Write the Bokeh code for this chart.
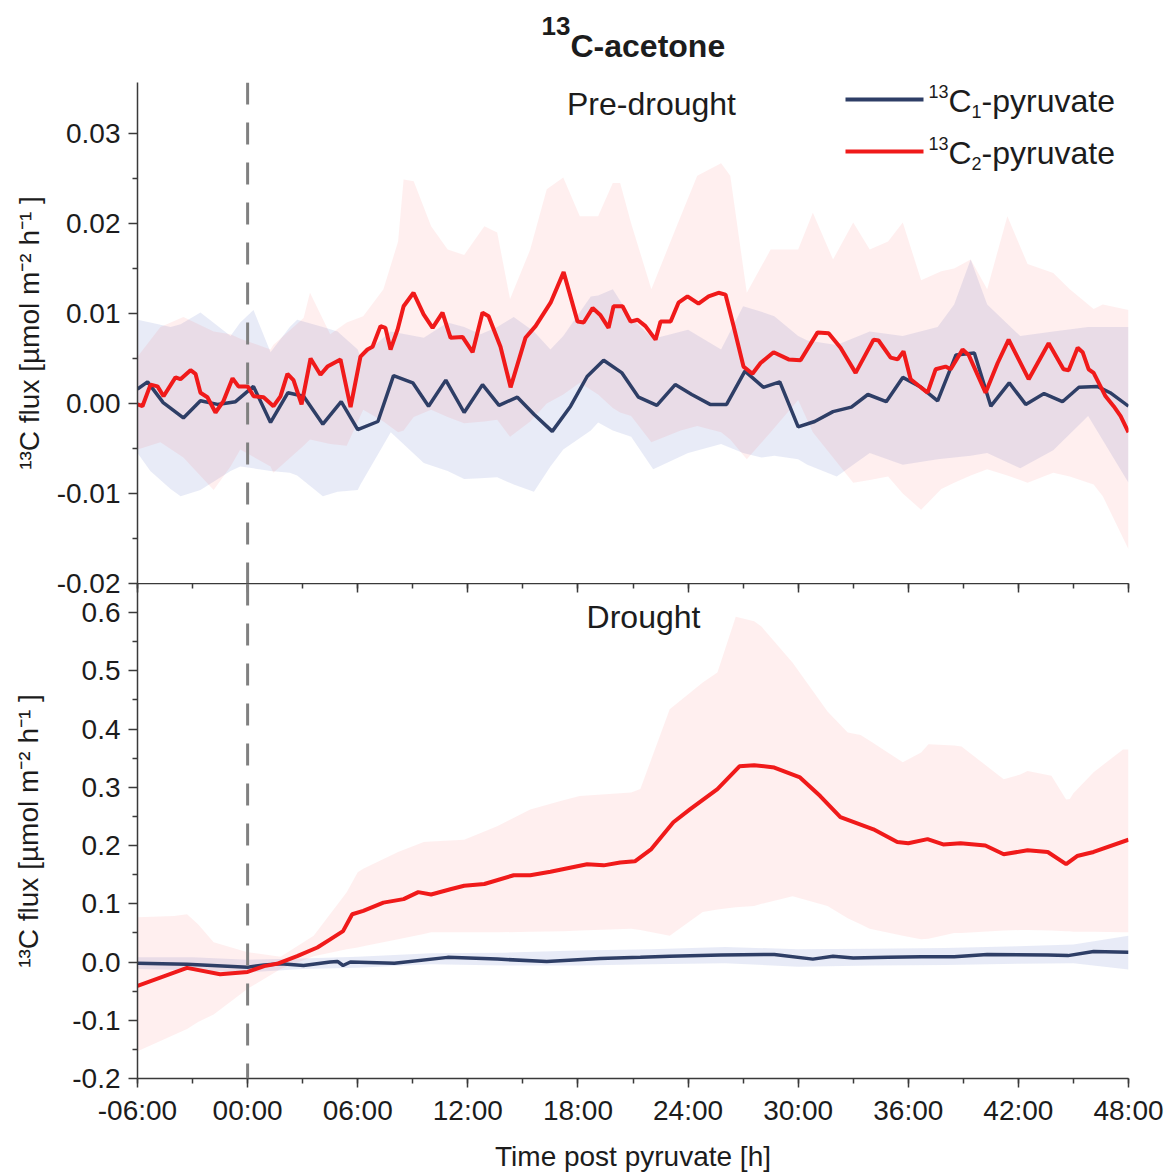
from bokeh.plotting import figure
from bokeh.layouts import column
from bokeh.models import (Range1d, FixedTicker, NumeralTickFormatter, LinearAxis,
                          Span, Label, BoxAnnotation)
from bokeh.embed import file_html
from bokeh.resources import INLINE

# ---------------- data ----------------
x_ticks = [-6, 0, 6, 12, 18, 24, 30, 36, 42, 48]
x_tick_labels = ["-06:00", "00:00", "06:00", "12:00", "18:00", "24:00",
                 "30:00", "36:00", "42:00", "48:00"]
x_minor = [-6, -3, 0, 3, 6, 9, 12, 15, 18, 21, 24, 27, 30, 33, 36, 39, 42, 45, 48]

pre_ticks = [-0.02, -0.01, 0.0, 0.01, 0.02, 0.03]
pre_minor = [-0.015, -0.005, 0.005, 0.015, 0.025]
dr_ticks = [-0.2, -0.1, 0.0, 0.1, 0.2, 0.3, 0.4, 0.5, 0.6]
dr_minor = [-0.15, -0.05, 0.05, 0.15, 0.25, 0.35, 0.45, 0.55]

# Pre-drought, 13C1-pyruvate (mean)
pre_c1_h = [-6.0, -5.45, -4.6, -3.5, -2.57, -1.64, -0.66, 0.32, 1.25, 2.2,
            3.05, 4.1, 5.1, 6.0, 7.1, 7.95, 9.0, 9.86, 10.8, 11.8,
            12.8, 13.7, 14.7, 15.6, 16.6, 17.6, 18.5, 19.4, 20.4, 21.3,
            22.3, 23.3, 24.2, 25.2, 26.1, 27.1, 28.1, 29.0, 30.0, 30.9,
            31.9, 32.9, 33.8, 34.8, 35.7, 36.7, 37.6, 38.6, 39.6, 40.5,
            41.5, 42.4, 43.4, 44.4, 45.3, 46.3, 47.0, 48.0]
pre_c1_v = [0.0016, 0.0024, 0.0001, -0.0016, 0.0003, -0.0001, 0.0002, 0.0019, -0.0021, 0.0012,
            0.0008, -0.0023, 0.0002, -0.0029, -0.002, 0.0031, 0.0023, -0.0003, 0.0026, -0.001,
            0.0021, -0.0002, 0.0007, -0.0012, -0.0031, -0.0003, 0.003, 0.0048, 0.0034, 0.0007,
            -0.0002, 0.0021, 0.001, -0.0001, -0.0001, 0.0036, 0.0018, 0.0024, -0.0026, -0.002,
            -0.0009, -0.0004, 0.001, 0.0002, 0.0029, 0.0018, 0.0003, 0.0054, 0.0056, -0.0003,
            0.0023, -0.0001, 0.0011, 0.0002, 0.0018, 0.0019, 0.0012, -0.0003]

# Pre-drought, 13C1-pyruvate (band)
pre_c1_band_h = [-6.0, -5.3, -4.2, -3.65, -2.57, -0.93, -0.4, 0.32, 1.25, 2.3, 2.7, 4.1, 4.9,
                 6.0, 6.15, 7.8, 9.6, 10.9, 11.8, 12.7, 13.6, 14.5, 15.6, 16.5, 17.2, 18.7,
                 19.1, 19.9, 20.9, 22.1, 24.0, 25.8, 27.0, 28.0, 28.7, 30.0, 30.5, 32.1, 33.9,
                 35.7, 37.6, 38.5, 39.4, 40.3, 42.1, 43.9, 45.8, 48.0]
pre_c1_hi = [0.0093, 0.009, 0.0085, 0.0088, 0.0101, 0.0075, 0.009, 0.0104, 0.0057, 0.0085, 0.0093, 0.0085, 0.008,
             0.006, 0.0051, 0.008, 0.0073, 0.009, 0.0085, 0.0077, 0.0085, 0.0096, 0.008, 0.006, 0.0075, 0.0119,
             0.012, 0.0127, 0.0095, 0.0072, 0.0082, 0.006, 0.0108, 0.0102, 0.0097, 0.0075, 0.007, 0.0065, 0.008,
             0.0075, 0.0085, 0.011, 0.016, 0.011, 0.0075, 0.008, 0.0085, 0.0085]
pre_c1_lo = [-0.0055, -0.0075, -0.0095, -0.0103, -0.0096, -0.0075, -0.007, -0.0072, -0.0075, -0.0077, -0.008, -0.0103, -0.0098,
             -0.0096, -0.009, -0.0032, -0.0066, -0.0075, -0.0084, -0.0083, -0.0082, -0.009, -0.0098, -0.007, -0.0051, -0.003,
             -0.0021, -0.003, -0.0037, -0.0073, -0.0055, -0.0045, -0.0055, -0.006, -0.0058, -0.0062, -0.0068, -0.0081, -0.0055,
             -0.0068, -0.0062, -0.006, -0.0058, -0.0055, -0.0072, -0.0052, -0.0014, -0.0088]

# Pre-drought, 13C2-pyruvate (mean)
pre_c2_h = [-6.0, -5.73, -5.29, -4.91, -4.58, -3.93, -3.66, -3.11, -2.84, -2.57,
            -2.19, -1.75, -1.31, -0.82, -0.5, 0.0, 0.33, 0.87, 1.41, 1.79,
            2.17, 2.5, 2.94, 3.43, 3.97, 4.35, 5.06, 5.61, 6.15, 6.53,
            6.81, 7.24, 7.51, 7.79, 8.17, 8.5, 9.04, 9.59, 10.08, 10.62,
            11.06, 11.71, 12.26, 12.8, 13.13, 13.78, 14.33, 15.14, 15.69, 16.51,
            17.22, 17.98, 18.31, 18.8, 19.23, 19.67, 19.94, 20.43, 20.87, 21.25,
            21.68, 22.23, 22.5, 23.05, 23.48, 23.97, 24.57, 25.12, 25.66, 26.04,
            26.48, 27.02, 27.51, 27.95, 28.66, 29.48, 30.13, 31.06, 31.66, 32.31,
            33.13, 34.11, 34.38, 35.04, 35.42, 35.74, 36.13, 37.05, 37.49, 38.03,
            38.31, 38.96, 39.29, 40.21, 40.87, 41.47, 42.56, 43.65, 44.46, 44.74,
            45.23, 45.5, 45.83, 46.1, 46.75, 47.19, 47.57, 48.0]
pre_c2_v = [-0.0001, -0.0003, 0.0021, 0.0019, 0.0008, 0.0029, 0.0027, 0.0037, 0.0033, 0.0012,
            0.0007, -0.001, 0.0003, 0.0028, 0.0019, 0.0019, 0.0008, 0.0007, -0.0003, 0.0008,
            0.0033, 0.0026, -0.0001, 0.005, 0.0032, 0.0041, 0.0049, -0.0004, 0.0052, 0.006,
            0.0063, 0.0086, 0.0084, 0.006, 0.0082, 0.0108, 0.0123, 0.0099, 0.0084, 0.0101,
            0.0073, 0.0074, 0.0057, 0.0101, 0.0097, 0.0063, 0.0018, 0.0073, 0.0086, 0.0112,
            0.0146, 0.0091, 0.009, 0.0106, 0.0098, 0.0084, 0.0108, 0.0108, 0.0091, 0.0093,
            0.0086, 0.0071, 0.0091, 0.0091, 0.0112, 0.0119, 0.0111, 0.0119, 0.0123, 0.0121,
            0.0086, 0.0041, 0.0033, 0.0045, 0.0057, 0.0049, 0.0048, 0.0079, 0.0078, 0.0062,
            0.0034, 0.0071, 0.007, 0.0051, 0.0049, 0.0058, 0.0027, 0.0012, 0.0038, 0.0041,
            0.0038, 0.006, 0.0054, 0.0012, 0.0045, 0.0071, 0.0027, 0.0067, 0.0038, 0.0037,
            0.0062, 0.0057, 0.0038, 0.0034, 0.0008, -0.0003, -0.0014, -0.0032]

# Pre-drought, 13C2-pyruvate (band)
pre_c2_band_h = [-6.0, -4.75, -3.5, -1.85, -0.93, -0.4, 1.25, 1.4, 3.05, 3.4, 4.5, 5.4, 6.3, 7.4,
                 8.2, 8.5, 9.05, 10.0, 10.9, 11.8, 12.9, 13.6, 14.3, 15.4, 16.3, 17.2, 18.1,
                 19.1, 19.9, 20.3, 20.9, 22.0, 23.6, 24.5, 25.8, 26.3, 27.2, 28.5, 30.0, 30.8,
                 31.9, 33.0, 33.9, 34.9, 35.7, 36.7, 37.8, 38.5, 39.4, 40.3, 41.4, 42.5, 43.9,
                 44.8, 46.1, 46.6, 48.0]
pre_c2_hi = [0.0052, 0.0085, 0.0096, 0.008, 0.0077, 0.0072, 0.006, 0.0065, 0.0095, 0.0123, 0.0077, 0.009, 0.0097, 0.0127,
             0.018, 0.0249, 0.0247, 0.0197, 0.0171, 0.0165, 0.0197, 0.019, 0.0116, 0.0171, 0.0238, 0.0251, 0.0208,
             0.0208, 0.0245, 0.0245, 0.02, 0.0127, 0.0208, 0.0253, 0.0267, 0.0253, 0.0123, 0.0171, 0.0171, 0.0212,
             0.016, 0.0201, 0.0171, 0.018, 0.0201, 0.0137, 0.0147, 0.015, 0.016, 0.0127, 0.0208, 0.0155, 0.0145,
             0.0127, 0.0105, 0.011, 0.0104]
pre_c2_lo = [-0.0051, -0.0043, -0.006, -0.0096, -0.007, -0.0051, -0.007, -0.0077, -0.0047, -0.004, -0.0045, -0.0047, -0.0007, -0.002,
             -0.0032, -0.003, -0.0015, -0.0007, -0.0015, -0.0022, -0.002, -0.0018, -0.0037, -0.002, 0.0, 0.001, 0.0023,
             0.001, -0.0005, -0.001, -0.0014, -0.0043, -0.003, -0.0025, -0.0032, -0.004, -0.0062, -0.0032, 0.0004, -0.0032,
             -0.006, -0.0088, -0.0085, -0.0081, -0.01, -0.0118, -0.0095, -0.0088, -0.008, -0.0073, -0.008, -0.0088, -0.0077,
             -0.0081, -0.009, -0.0103, -0.0162]

# Drought, 13C1-pyruvate (mean)
dr_c1_h = [-6.0, -3.3, 0.0, 0.9, 1.8, 3.05, 4.5, 4.9, 5.2, 5.6, 8.0, 10.9, 13.6, 16.3,
           19.2, 21.4, 23.0, 25.8, 28.7, 30.8, 31.9, 33.0, 34.9, 36.7, 38.5, 40.3, 43.6,
           44.7, 46.1, 48.0]
dr_c1_v = [-0.002, -0.004, -0.009, -0.005, -0.003, -0.006, 0.0, 0.001, -0.006, 0.0, -0.002, 0.008, 0.005, 0.001,
           0.006, 0.008, 0.01, 0.012, 0.013, 0.005, 0.01, 0.007, 0.008, 0.009, 0.009, 0.013, 0.012,
           0.011, 0.018, 0.017]

# Drought, 13C1-pyruvate (band)
dr_c1_band_h = [-6.0, -3.0, 0.0, 3.0, 6.0, 10.0, 14.0, 18.0, 22.0, 26.0, 30.0, 34.0, 38.0, 42.0, 45.0, 48.0]
dr_c1_hi = [0.008, 0.008, 0.004, 0.006, 0.009, 0.015, 0.016, 0.02, 0.022, 0.026, 0.022, 0.023, 0.024, 0.027, 0.03, 0.045]
dr_c1_lo = [-0.012, -0.014, -0.018, -0.012, -0.01, -0.004, -0.006, -0.006, -0.004, -0.002, -0.008, -0.006, -0.005, -0.003, -0.002, -0.013]

# Drought, 13C2-pyruvate (mean)
dr_c2_h = [-6.0, -3.3, -1.5, 0.0, 0.9, 1.6, 2.7, 3.8, 4.5, 5.2, 5.7, 6.3, 7.4, 8.5, 9.3, 10.0,
           11.05, 11.8, 12.9, 14.5, 15.4, 16.5, 18.5, 19.4, 20.3, 21.1, 22.0, 23.2, 24.1, 25.6,
           26.8, 27.6, 28.7, 30.1, 31.2, 32.3, 34.1, 35.4, 36.0, 37.05, 37.9, 38.85, 40.2, 41.2,
           42.5, 43.6, 44.6, 45.2, 46.1, 48.0]
dr_c2_v = [-0.041, -0.01, -0.021, -0.017, -0.007, -0.003, 0.01, 0.025, 0.039, 0.053, 0.082, 0.088, 0.102, 0.108, 0.12, 0.116,
           0.125, 0.131, 0.134, 0.149, 0.149, 0.155, 0.168, 0.166, 0.171, 0.173, 0.194, 0.24, 0.262, 0.297,
           0.336, 0.338, 0.334, 0.317, 0.285, 0.249, 0.228, 0.206, 0.204, 0.211, 0.202, 0.204, 0.2, 0.185,
           0.192, 0.189, 0.168, 0.182, 0.189, 0.21]

# Drought, 13C2-pyruvate (band)
dr_c2_band_h = [-6.0, -4.0, -3.3, -2.7, -1.85, 0.0, 1.8, 3.6, 5.4, 6.0, 6.3, 8.2, 9.6, 10.0, 11.8, 13.6,
                15.4, 17.2, 18.1, 20.9, 21.4, 23.0, 24.8, 25.6, 26.6, 27.6, 28.0, 29.7, 31.6, 32.7,
                33.4, 33.9, 35.7, 36.7, 37.1, 38.5, 38.9, 41.2, 42.1, 42.5, 43.8, 44.6, 44.8, 45.0,
                46.1, 47.7, 48.0]
dr_c2_hi = [0.077, 0.079, 0.082, 0.065, 0.034, 0.017, 0.009, 0.045, 0.12, 0.154, 0.16, 0.189, 0.206, 0.207, 0.21, 0.233,
            0.262, 0.278, 0.285, 0.291, 0.297, 0.434, 0.48, 0.497, 0.593, 0.585, 0.576, 0.514, 0.43, 0.394,
            0.39, 0.38, 0.343, 0.36, 0.374, 0.372, 0.37, 0.314, 0.322, 0.328, 0.32, 0.279, 0.28, 0.29,
            0.326, 0.365, 0.365]
dr_c2_lo = [-0.153, -0.125, -0.115, -0.103, -0.09, -0.046, -0.012, 0.01, 0.022, 0.025, 0.027, 0.039, 0.048, 0.051, 0.051, 0.051,
            0.052, 0.053, 0.054, 0.057, 0.055, 0.045, 0.086, 0.09, 0.094, 0.096, 0.1, 0.113, 0.096, 0.075,
            0.065, 0.057, 0.045, 0.039, 0.04, 0.05, 0.05, 0.054, 0.055, 0.055, 0.054, 0.053, 0.053, 0.052,
            0.052, 0.051, 0.051]

# ---------------- style ----------------
FONT = "Liberation Sans"
TXT = "#1c1c1c"
AX = "#3a3a3a"
C1_LINE = "#2e3e66"
C2_LINE = "#f01a1a"
C1_FILL = "#4a64c0"
C2_FILL = "#ff3030"
Y_LABEL = "\u00b9\u00b3C flux [\u00b5mol m\u207b\u00b2 h\u207b\u00b9 ]"
BASE_K = 0.37   # empirical lift for alphabetic baselines


def lab(p, x, y, text, size, align="left", bold=False):
    p.add_layout(Label(x=x, y=y + BASE_K * size, x_units="screen", y_units="screen", text=text,
                       text_align=align, text_baseline="alphabetic", text_font=FONT,
                       text_font_size=f"{size}px", text_color=TXT,
                       text_font_style="bold" if bold else "normal"))


def style_common(p):
    p.grid.visible = False
    p.outline_line_color = None
    p.background_fill_color = None
    p.border_fill_color = None


def style_axis(ax):
    ax.axis_line_color = AX
    ax.axis_line_width = 1.5
    ax.major_tick_line_color = AX
    ax.major_tick_line_width = 1.5
    ax.minor_tick_line_color = AX
    ax.minor_tick_line_width = 1.5
    ax.major_label_text_font = FONT
    ax.major_label_text_font_size = "28px"
    ax.major_label_text_color = TXT
    ax.axis_label_text_font = FONT
    ax.axis_label_text_font_size = "28px"
    ax.axis_label_text_font_style = "normal"
    ax.axis_label_text_color = TXT


def style_yaxis(p, ticks, minor, fmt, standoff):
    ax = p.yaxis[0]
    style_axis(ax)
    ax.ticker = FixedTicker(ticks=ticks, minor_ticks=minor)
    ax.formatter = NumeralTickFormatter(format=fmt)
    ax.major_tick_out = 9
    ax.major_tick_in = 0
    ax.minor_tick_out = 5
    ax.minor_tick_in = 0
    ax.major_label_standoff = 8
    ax.axis_label = Y_LABEL
    ax.axis_label_standoff = standoff


# frame of every plot in the column spans canvas x 137..1128
FX = 137
TOP_H = 82          # title strip height (top panel frame starts here)
OVL = 22            # overlap of the top panel's lower border with the bottom panel

# ---------------- title strip ----------------
pt = figure(width=1172, height=TOP_H, x_range=Range1d(0, 1), y_range=Range1d(0, 1),
            output_backend="svg", toolbar_location=None, x_axis_location=None,
            y_axis_location=None, min_border=0)
style_common(pt)
lab(pt, 570 - FX, TOP_H - 35, "13", 26, align="right", bold=True)
lab(pt, 570 - FX, TOP_H - 57, "C-acetone", 32, bold=True)

# ---------------- top panel ----------------
p1 = figure(width=1172, height=583 + OVL - TOP_H, x_range=Range1d(-6, 48),
            y_range=Range1d(-0.02, 0.035 + (88 - TOP_H) / 90 * 0.01),
            output_backend="svg", toolbar_location=None, x_axis_location=None,
            min_border_left=137, min_border_right=44, min_border_top=0, min_border_bottom=OVL)
style_common(p1)
style_yaxis(p1, pre_ticks, pre_minor, "0.00", 9)

p1.varea(x=pre_c1_band_h, y1=pre_c1_lo, y2=pre_c1_hi, fill_color=C1_FILL, fill_alpha=0.13)
p1.varea(x=pre_c2_band_h, y1=pre_c2_lo, y2=pre_c2_hi, fill_color=C2_FILL, fill_alpha=0.08)
p1.add_layout(Span(location=0, dimension="height", line_color="#808080", line_width=3, line_dash="22 18"))
p1.line(pre_c1_h, pre_c1_v, line_color=C1_LINE, line_width=3.5)
p1.line(pre_c2_h, pre_c2_v, line_color=C2_LINE, line_width=4)

lab(p1, 514, 468, "Pre-drought", 32, align="center")

# legend
for sub, col, dy in [("1", C1_LINE, 0), ("2", C2_LINE, 52)]:
    yc = 484 - dy
    p1.add_layout(BoxAnnotation(left=708, right=786, bottom=yc - 2, top=yc + 2,
                                left_units="screen", right_units="screen",
                                bottom_units="screen", top_units="screen",
                                fill_color=col, fill_alpha=1.0, line_color=None))
    base = 471 - dy
    lab(p1, 811, base + 14, "13", 18, align="right")
    lab(p1, 811, base, "C", 32)
    lab(p1, 811 + 23.1, base - 6, sub, 18)
    lab(p1, 811 + 23.1 + 10, base, "-pyruvate", 32)

# ---------------- bottom panel ----------------
p2 = figure(width=1172, height=591, x_range=p1.x_range, y_range=Range1d(-0.2, 0.65),
            output_backend="svg", toolbar_location=None,
            min_border_left=137, min_border_right=44, min_border_top=0, min_border_bottom=94,
            margin=(-OVL, 0, 0, 0))
style_common(p2)
style_yaxis(p2, dr_ticks, dr_minor, "0.0", 25)

xa = p2.xaxis[0]
style_axis(xa)
xa.ticker = FixedTicker(ticks=x_ticks, minor_ticks=x_minor)
xa.major_label_overrides = {t: s for t, s in zip(x_ticks, x_tick_labels)}
xa.major_tick_out = 9
xa.major_tick_in = 0
xa.minor_tick_out = 5
xa.minor_tick_in = 0
xa.major_label_standoff = 7
xa.axis_label = "Time post pyruvate [h]"
xa.axis_label_standoff = 12

# boundary line between the panels, ticks pointing down (no labels)
for tks, ln, show_line in [(x_ticks, 9, True), (x_minor, 5, False)]:
    ax = LinearAxis(ticker=FixedTicker(ticks=[], minor_ticks=tks))
    style_axis(ax)
    ax.major_label_standoff = 0
    ax.major_tick_in = 0
    ax.major_tick_out = 0
    ax.minor_tick_in = ln
    ax.minor_tick_out = 0
    if not show_line:
        ax.axis_line_color = None
    p2.add_layout(ax, "above")

p2.varea(x=dr_c1_band_h, y1=dr_c1_lo, y2=dr_c1_hi, fill_color=C1_FILL, fill_alpha=0.13)
p2.varea(x=dr_c2_band_h, y1=dr_c2_lo, y2=dr_c2_hi, fill_color=C2_FILL, fill_alpha=0.08)
p2.add_layout(Span(location=0, dimension="height", line_color="#808080", line_width=3, line_dash="22 18"))
p2.line(dr_c1_h, dr_c1_v, line_color=C1_LINE, line_width=3.5)
p2.line(dr_c2_h, dr_c2_v, line_color=C2_LINE, line_width=4)

lab(p2, 506, 450, "Drought", 32, align="center")

layout = column(pt, p1, p2, spacing=0)
open("out.html", "w").write(file_html(layout, INLINE))
